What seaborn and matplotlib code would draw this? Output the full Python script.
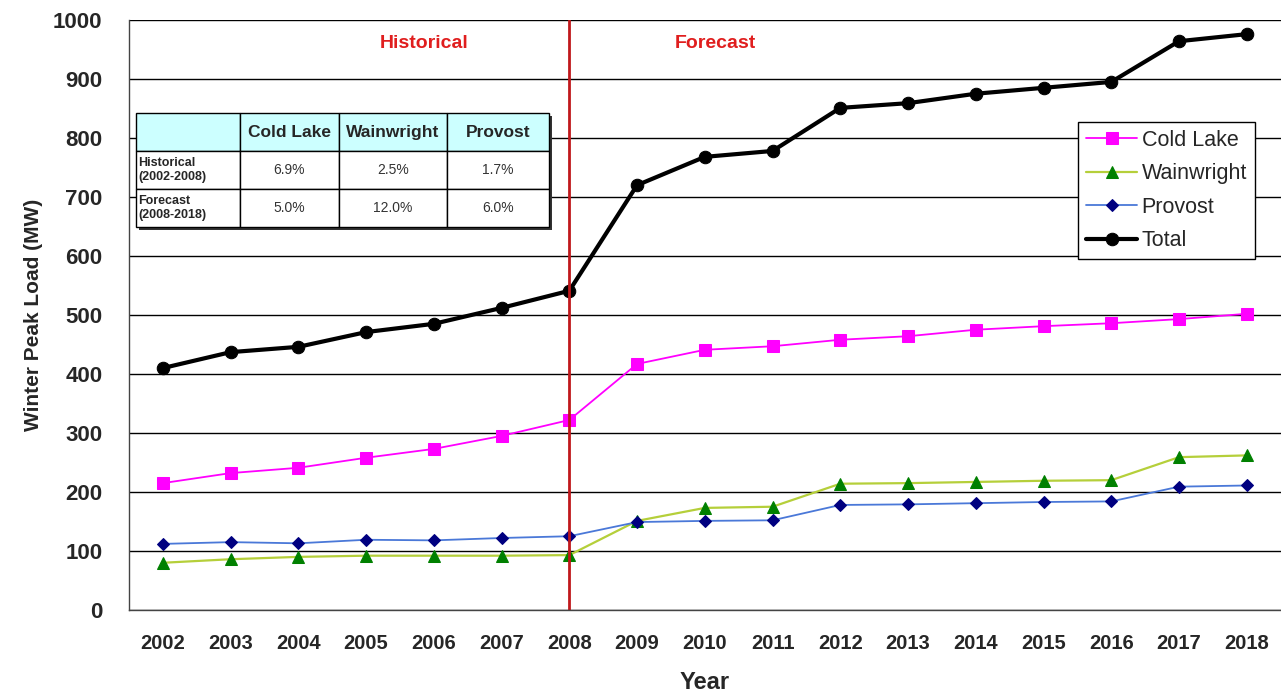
import pandas as pd
import matplotlib
matplotlib.use("Agg")
import matplotlib.pyplot as plt
from matplotlib.patches import Rectangle
import seaborn as sns

# data
years = list(range(2002, 2019))
cold_lake = [215, 232, 241, 258, 273, 295, 322, 417, 441, 447, 458, 464, 475, 481, 486, 493, 502]
wainwright = [80, 86, 90, 92, 92, 92, 93, 151, 173, 175, 214, 215, 217, 219, 220, 259, 262]
provost = [112, 115, 113, 119, 118, 122, 125, 149, 151, 152, 178, 179, 181, 183, 184, 209, 211]
total = [410, 437, 446, 471, 485, 512, 541, 720, 768, 778, 851, 859, 875, 885, 895, 964, 976]

table_cols = ["", "Cold Lake", "Wainwright", "Provost"]
table_rows = [["Historical\n(2002-2008)", "6.9%", "2.5%", "1.7%"],
              ["Forecast\n(2008-2018)", "5.0%", "12.0%", "6.0%"]]


def PeakLoadChart():
    sns.set_style("white")
    plt.rcParams["font.family"] = ["Liberation Sans", "DejaVu Sans"]

    df = pd.DataFrame({"idx": range(len(years)), "Cold Lake": cold_lake,
                       "Wainwright": wainwright, "Provost": provost, "Total": total})

    fig = plt.figure(figsize=(12.81, 6.96), dpi=100)
    ax = fig.add_axes([0.1007, 0.1236, 0.899, 0.8477])

    sns.lineplot(data=df, x="idx", y="Cold Lake", ax=ax, color="#FF00FF", lw=1.3,
                 marker="s", markersize=8, markerfacecolor="#FF00FF",
                 markeredgecolor="#FF00FF", label="Cold Lake")
    sns.lineplot(data=df, x="idx", y="Wainwright", ax=ax, color="#B5CF3A", lw=1.6,
                 marker="^", markersize=9, markerfacecolor="#008000",
                 markeredgecolor="#008000", label="Wainwright")
    sns.lineplot(data=df, x="idx", y="Provost", ax=ax, color="#4A78D8", lw=1.3,
                 marker="D", markersize=6.5, markerfacecolor="#000080",
                 markeredgecolor="#000080", label="Provost")
    sns.lineplot(data=df, x="idx", y="Total", ax=ax, color="black", lw=3,
                 marker="o", markersize=9, markerfacecolor="black",
                 markeredgecolor="black", label="Total")

    ax.axvline(years.index(2008), color="#C0181C", lw=2, ymin=0, ymax=1)
    ax.text(3.85, 960, "Historical", color="#E01E1E", fontsize=14, fontweight="bold",
            ha="center", va="center")
    ax.text(8.15, 960, "Forecast", color="#E01E1E", fontsize=14, fontweight="bold",
            ha="center", va="center")

    ax.set_xlim(-0.5, len(years) - 0.5)
    ax.set_ylim(0, 1000)
    ax.set_yticks(range(0, 1001, 100))
    ax.set_xticks(range(len(years)))
    ax.set_xticklabels([str(y) for y in years])
    ax.set_xticks([i - 0.5 for i in range(len(years) + 1)], minor=True)
    ax.tick_params(axis="x", which="major", length=0, pad=17, labelsize=14.5)
    ax.tick_params(axis="x", which="minor", length=6, width=1, direction="out", color="#444444")
    ax.tick_params(axis="y", length=5, width=1, direction="out", labelsize=16, pad=14)
    for lab in ax.get_xticklabels() + ax.get_yticklabels():
        lab.set_fontweight("bold")

    ax.grid(axis="y", color="black", lw=1)
    ax.grid(axis="x", visible=False)
    ax.set_axisbelow(True)
    for s in ["top", "right"]:
        ax.spines[s].set_visible(False)
    for s in ["left", "bottom"]:
        ax.spines[s].set_color("#444444")
        ax.spines[s].set_linewidth(1)

    ax.set_xlabel("Year", fontsize=17, fontweight="bold", labelpad=13)
    ax.set_ylabel("Winter Peak Load (MW)", fontsize=15, fontweight="bold", labelpad=7)

    leg = ax.legend(loc="upper right", bbox_to_anchor=(0.9774, 0.827), fontsize=15.5,
                    frameon=True, fancybox=False, edgecolor="black", handlelength=2.4,
                    handletextpad=0.2, borderpad=0.35, labelspacing=0.58, borderaxespad=0)
    leg.get_frame().set_linewidth(1)
    leg.get_frame().set_alpha(1)

    # table with a dark drop shadow
    tb = [0.006, 0.649, 0.3585, 0.193]
    ax.add_patch(Rectangle((tb[0] + 0.0025, tb[1] - 0.005), tb[2], tb[3],
                           transform=ax.transAxes, facecolor="#333333",
                           edgecolor="none", zorder=4))
    tbl = ax.table(cellText=table_rows, colLabels=table_cols,
                   colWidths=[104, 99, 108, 102], cellLoc="center", bbox=tb)
    tbl.auto_set_font_size(False)
    for (r, c), cell in tbl.get_celld().items():
        cell.set_edgecolor("black")
        cell.set_linewidth(1)
        if r == 0:
            cell.set_facecolor("#CCFFFF")
            cell.get_text().set_fontsize(12.5)
            cell.get_text().set_fontweight("bold")
        elif c == 0:
            cell.set_facecolor("white")
            cell.get_text().set_fontsize(9)
            cell.get_text().set_fontweight("bold")
            cell.get_text().set_ha("left")
            cell.PAD = 0.02
            cell._loc = "left"
        else:
            cell.set_facecolor("white")
            cell.get_text().set_fontsize(10)
            cell.get_text().set_color("#333333")
    tbl.set_zorder(5)

    fig.savefig("out.png", dpi=100)


PeakLoadChart()
